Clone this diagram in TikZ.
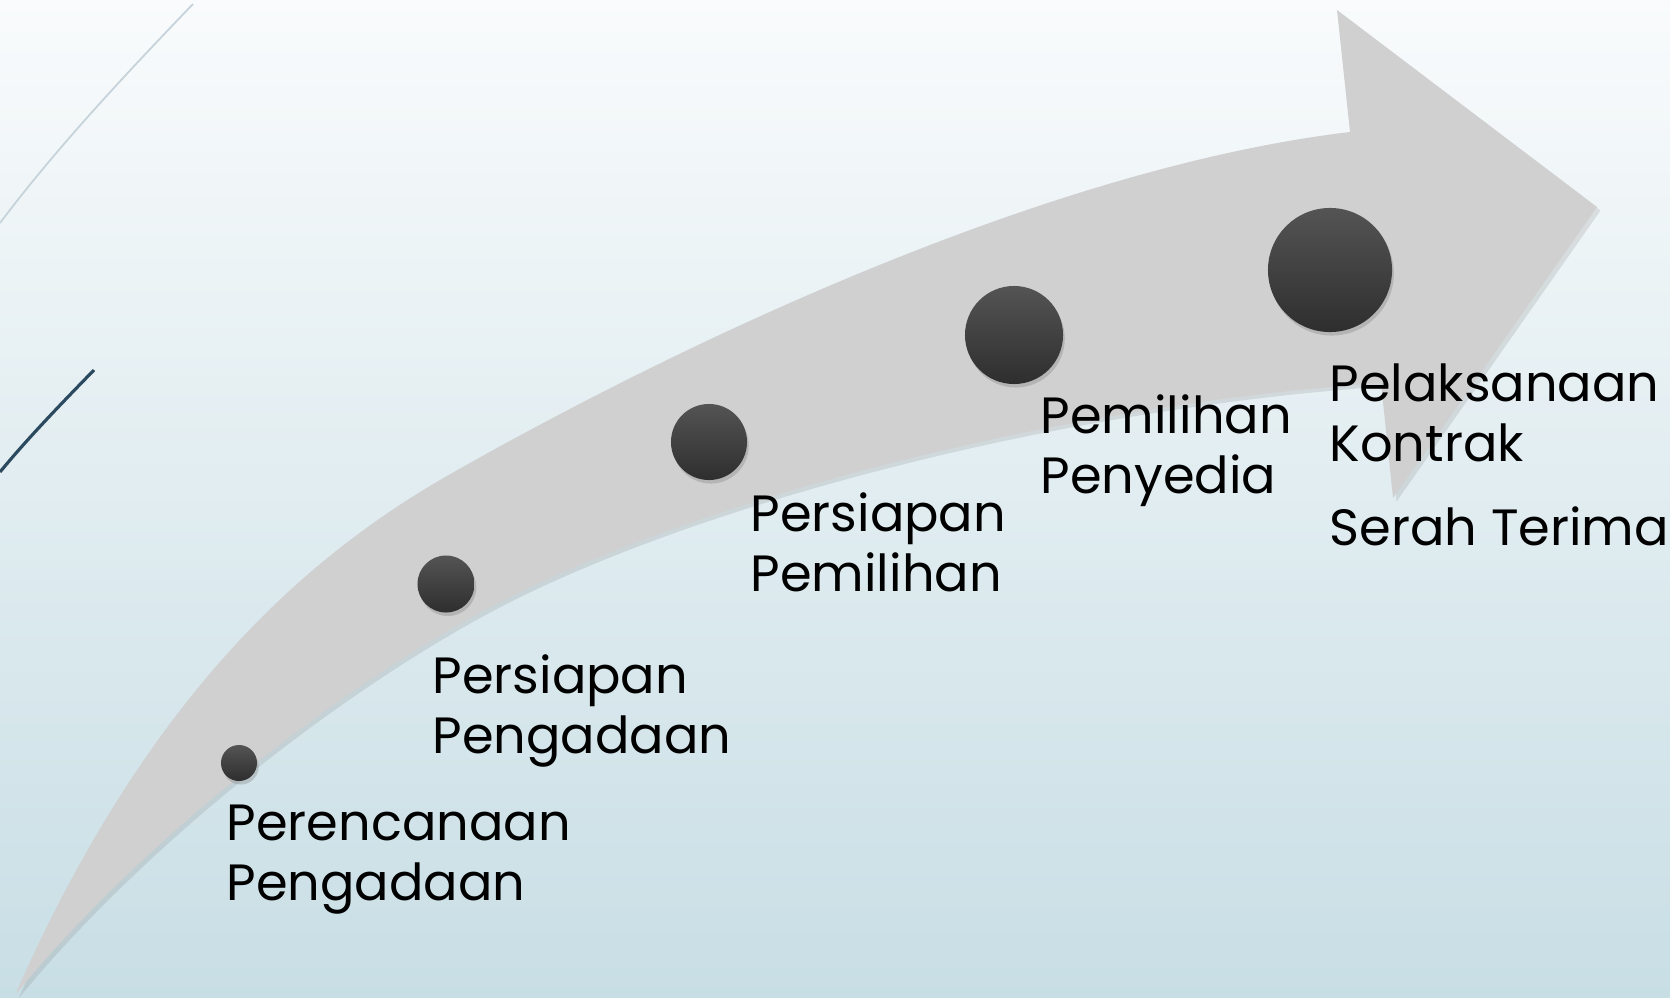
\documentclass[tikz,border=0pt]{standalone}
\usepackage{fontspec}
\setmainfont{Poppins}
\usetikzlibrary{shadows}

\definecolor{bgtop}{HTML}{F9FBFC}
\definecolor{bgbottom}{HTML}{C8DEE5}
\definecolor{arrowgray}{HTML}{D0D0D0}
\definecolor{dotlight}{HTML}{545454}
\definecolor{dotdark}{HTML}{2E2E2E}
\definecolor{lineblue}{HTML}{2C4A5F}
\definecolor{linepale}{HTML}{C6D3DA}

\begin{document}
\begin{tikzpicture}[x=0.01cm, y=-0.01cm,
  every node/.style={align=left, inner sep=0pt, font=\fontsize{14.5}{16.8}\selectfont},
  stage/.style={anchor=base west, text=black},
  dot/.style={circle, top color=dotlight, bottom color=dotdark, drop shadow={opacity=0.35, shadow xshift=0.5pt, shadow yshift=-1pt}}]
% Background
\fill[top color=bgtop, bottom color=bgbottom] (0,0) rectangle (1670,997);
\useasboundingbox (0,0) rectangle (1670,997);

% Decorative lines
\draw[linepale, line width=0.5pt] (193,4) .. controls (120,80) and (55,150) .. (0,223);
\draw[lineblue, line width=0.9pt] (94,370) .. controls (60,405) and (28,438) .. (0,472);

% Curved arrow
\fill[arrowgray, drop shadow={opacity=0.2, shadow xshift=1pt, shadow yshift=-1pt}]
  (15,995) .. controls (145,700) and (300,562) .. (440,480)
  .. controls (640,365) and (1030,170) .. (1350,132)
  -- (1337,10) -- (1597,207) -- (1393,498) -- (1381,383)
  .. controls (1060,405) and (710,497) .. (510,597)
  .. controls (360,672) and (150,830) .. (15,995) -- cycle;

% Milestones
\node (dot1) [dot, minimum size=3.6mm] at (239,763) {};
\node (dot2) [dot, minimum size=5.7mm] at (446,584) {};
\node (dot3) [dot, minimum size=7.6mm] at (709,442) {};
\node (dot4) [dot, minimum size=9.8mm] at (1014,335) {};
\node (dot5) [dot, minimum size=12.4mm] at (1330,270) {};

% Stage labels (base = last line)
\node (plan) [stage] at (226,900) {Perencanaan\\Pengadaan};
\node (prepproc) [stage] at (432,753) {Persiapan\\Pengadaan};
\node (prepsel) [stage] at (750,591) {Persiapan\\Pemilihan};
\node (select) [stage] at (1040,493) {Pemilihan\\Penyedia};
\node (contract) [stage] at (1329,461) {Pelaksanaan\\Kontrak};
\node (handover) [stage] at (1329,545) {Serah Terima};
\end{tikzpicture}
\end{document}
